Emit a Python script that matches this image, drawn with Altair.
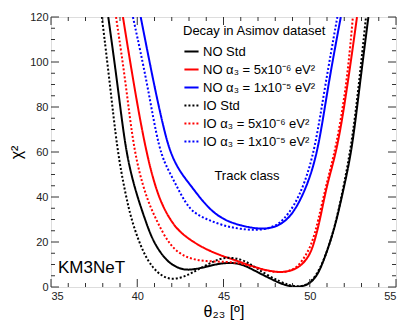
import altair as alt
import pandas as pd

# ---- data ----
series_names = [
    "NO Std",
    "NO α₃ = 5x10⁻⁶ eV²",
    "NO α₃ = 1x10⁻⁵ eV²",
    "IO Std",
    "IO α₃ = 5x10⁻⁶ eV²",
    "IO α₃ = 1x10⁻⁵ eV²",
]
series_colors = ["#000000", "#ff0000", "#0000ff", "#000000", "#ff0000", "#0000ff"]

no_std_x = [38.32, 38.86, 39.33, 39.88, 40.45, 40.9, 41.5, 42.0, 42.67, 43.3, 44.0, 44.8, 45.4, 46.0, 46.5, 47.1, 47.7, 48.28, 48.8, 49.2, 49.6, 50.0, 50.3, 50.6, 51.17, 51.6, 52.0, 52.45, 52.9, 53.4]
no_std_y = [120, 90, 60, 43, 30, 20.5, 13.5, 9.8, 7.5, 7.8, 9.0, 10.5, 10.8, 10.3, 8.5, 6.1, 3.8, 1.6, 0.4, 0.0, 0.3, 1.6, 4.0, 7.5, 19.4, 31, 45, 61, 90, 120]

io_std_x = [37.95, 38.42, 38.85, 39.3, 39.68, 40.35, 40.9, 41.4, 41.9, 42.5, 43.0, 43.45, 44.2, 44.8, 45.4, 46.0, 46.5, 46.92, 47.6, 48.28, 48.8, 49.2, 49.6, 50.0, 50.6, 51.17, 51.6, 52.4, 52.85, 53.26]
io_std_y = [120, 90, 60, 42, 29, 15, 8.5, 5.0, 3.4, 4.0, 5.5, 7.5, 10.5, 12.7, 13.2, 12.3, 10.5, 8.3, 5.0, 2.4, 0.8, 0.3, 0.4, 1.6, 7.5, 19.4, 31, 61, 90, 120]

no_a5_x = [39.17, 39.8, 40.5, 41.2, 41.9, 42.5, 43.45, 44.2, 45.0, 45.5, 46.0, 46.7, 47.5, 48.37, 48.9, 49.43, 49.9, 50.2, 50.6, 51.0, 51.6, 52.2, 52.74]
no_a5_y = [120, 90, 60, 40, 29.8, 24.0, 19.0, 16.0, 13.6, 12.4, 11.0, 9.2, 7.3, 6.4, 7.2, 9.0, 13.0, 17.9, 29.8, 46, 61, 90, 120]

io_a5_x = [38.77, 39.35, 39.8, 40.5, 41.1, 41.9, 42.87, 44.0, 45.2, 46.0, 46.7, 47.5, 48.3, 48.9, 49.4, 50.1, 50.5, 51.0, 51.5, 52.15, 52.5]
io_a5_y = [120, 90, 60, 40, 29.8, 17.9, 12.7, 11.3, 11.3, 10.5, 9.0, 7.2, 6.4, 7.2, 9.5, 18, 29.8, 47, 61, 90, 120]

no_a1_x = [40.2, 40.97, 41.4, 41.84, 42.4, 43.06, 43.8, 44.5, 45.2, 46.0, 46.8, 47.4, 48.0, 48.66, 49.26, 49.9, 50.5, 51.07, 51.8]
no_a1_y = [120, 90, 75, 61, 52, 45.5, 38, 32.5, 29.3, 27.3, 26.1, 25.8, 26.6, 29.5, 35.5, 46, 61, 90, 120]

io_a1_x = [39.75, 40.6, 41.26, 41.9, 42.5, 43.06, 43.7, 44.2, 44.8, 45.4, 46.0, 46.7, 47.3, 48.0, 48.47, 49.1, 49.7, 50.3, 50.9, 51.6]
io_a1_y = [120, 90, 60, 50.6, 41.5, 34.2, 31.3, 29.6, 27.8, 26.6, 25.8, 25.3, 25.5, 27.0, 29.8, 36, 46, 61, 90, 120]

x_labels = [35, 40, 45, 50, 55]
y_labels = [0, 20, 40, 60, 80, 100, 120]
x_minor = [v for v in range(35, 56) if v % 5 != 0]
y_minor = [v for v in range(0, 121, 5) if v % 20 != 0]

# ---- build table ----
rows = []
for name, xs, ys in [
    (series_names[0], no_std_x, no_std_y),
    (series_names[1], no_a5_x, no_a5_y),
    (series_names[2], no_a1_x, no_a1_y),
    (series_names[3], io_std_x, io_std_y),
    (series_names[4], io_a5_x, io_a5_y),
    (series_names[5], io_a1_x, io_a1_y),
]:
    for xv, yv in zip(xs, ys):
        rows.append({"theta": xv, "chi2": yv, "series": name})
df = pd.DataFrame(rows)

W, H = 345, 270
FONT = "Liberation Sans"

xscale = alt.Scale(domain=[35, 55], nice=False, zero=False)
yscale = alt.Scale(domain=[0, 120], nice=False, zero=False)

x_axis = alt.Axis(values=x_labels, ticks=False, domain=False, grid=False,
                  labelFontSize=11, labelPadding=3, labelColor="#222",
                  title="θ₂₃ [º]", titleFontSize=16, titleFontWeight="normal",
                  titlePadding=2, labelFont=FONT, titleFont=FONT, titleColor="#000")
y_axis = alt.Axis(values=y_labels, ticks=False, domain=False, grid=False,
                  labelFontSize=11, labelPadding=3, labelColor="#222",
                  title="χ²", titleFontSize=16, titleFontWeight="normal",
                  titlePadding=5, labelFont=FONT, titleFont=FONT, titleColor="#000")

lines = alt.Chart(df).mark_line(strokeWidth=2, clip=True, interpolate="basis").encode(
    x=alt.X("theta:Q", scale=xscale, axis=x_axis, title="θ₂₃ [º]"),
    y=alt.Y("chi2:Q", scale=yscale, axis=y_axis, title="χ²"),
    color=alt.Color("series:N", scale=alt.Scale(domain=series_names, range=series_colors),
                    legend=alt.Legend(title="Decay in Asimov dataset", orient="none",
                                      legendX=132, legendY=8, symbolType="stroke",
                                      symbolSize=200, symbolStrokeWidth=2,
                                      labelFontSize=13, titleFontSize=13,
                                      titleFontWeight="normal", rowPadding=2,
                                      labelLimit=300, titleLimit=300, labelOffset=3,
                                      titlePadding=5, labelFont=FONT, titleFont=FONT,
                                      labelColor="#000", titleColor="#000")),
    strokeDash=alt.StrokeDash("series:N",
                              scale=alt.Scale(domain=series_names,
                                              range=[[1, 0], [1, 0], [1, 0], [2, 2], [2, 2], [2, 2]]),
                              legend=alt.Legend(title="Decay in Asimov dataset")),
)

def tick_layer(vals, axis_ch, length, side):
    if axis_ch == "y":
        d = pd.DataFrame({"chi2": vals})
        base = alt.Chart(d).mark_rule(color="#333", strokeWidth=1)
        enc_y = alt.Y("chi2:Q", scale=yscale, title="χ²")
        if side == "left":
            return base.encode(y=enc_y, x=alt.value(0), x2=alt.value(length))
        return base.encode(y=enc_y, x=alt.value(W), x2=alt.value(W - length))
    d = pd.DataFrame({"theta": vals})
    base = alt.Chart(d).mark_rule(color="#333", strokeWidth=1)
    enc_x = alt.X("theta:Q", scale=xscale, title="θ₂₃ [º]")
    if side == "bottom":
        return base.encode(x=enc_x, y=alt.value(H), y2=alt.value(H - length))
    return base.encode(x=enc_x, y=alt.value(0), y2=alt.value(length))

ticks = [
    tick_layer(y_labels, "y", 8, "left"), tick_layer(y_minor, "y", 4, "left"),
    tick_layer(y_labels, "y", 8, "right"), tick_layer(y_minor, "y", 4, "right"),
    tick_layer(x_labels, "x", 8, "bottom"), tick_layer(x_minor, "x", 4, "bottom"),
    tick_layer(x_labels, "x", 8, "top"), tick_layer(x_minor, "x", 4, "top"),
]

km3 = alt.Chart(pd.DataFrame({"label": ["KM3NeT"]})).mark_text(
    align="left", baseline="middle", fontSize=17, font=FONT, color="#000").encode(
    text="label:N", x=alt.value(7), y=alt.value(251))
track = alt.Chart(pd.DataFrame({"label": ["Track class"]})).mark_text(
    align="center", baseline="middle", fontSize=13, font=FONT, color="#000").encode(
    text="label:N", x=alt.value(196), y=alt.value(159))

chart = alt.layer(lines, *ticks, km3, track).properties(
    width=W, height=H,
    autosize=alt.AutoSizeParams(type="none"),
    padding={"left": 43, "top": 9, "right": 12, "bottom": 38},
).configure_view(stroke="#000", strokeWidth=1.5).configure(background="white")

chart.save("out.html", embed_options={"renderer": "svg", "actions": False})
